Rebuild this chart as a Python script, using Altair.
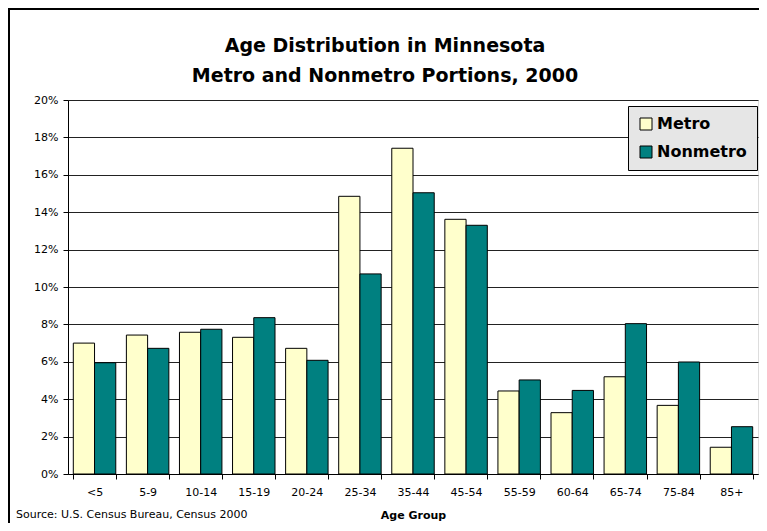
import altair as alt
import pandas as pd

ages = ["<5", "5-9", "10-14", "15-19", "20-24", "25-34", "35-44", "45-54",
        "55-59", "60-64", "65-74", "75-84", "85+"]
metro = [7.00, 7.43, 7.58, 7.31, 6.72, 14.85, 17.42, 13.62, 4.44, 3.28, 5.20, 3.67, 1.43]
nonmetro = [5.95, 6.72, 7.74, 8.36, 6.08, 10.70, 15.04, 13.30, 5.03, 4.47, 8.04, 5.99, 2.53]
series = ["Metro", "Nonmetro"]
colors = ["#FFFFCC", "#008080"]
title_lines = ["Age Distribution in Minnesota", "Metro and Nonmetro Portions, 2000"]
source_text = "Source: U.S. Census Bureau, Census 2000"
y_ticks = [0, 0.02, 0.04, 0.06, 0.08, 0.10, 0.12, 0.14, 0.16, 0.18, 0.20]

rows = []
for a, m, n in zip(ages, metro, nonmetro):
    rows.append({"age": a, "series": "Metro", "value": m / 100})
    rows.append({"age": a, "series": "Nonmetro", "value": n / 100})
df = pd.DataFrame(rows)

FONT = "DejaVu Sans"
W, H = 690, 374

bars = alt.Chart(df).mark_bar(stroke="black", strokeWidth=1).encode(
    x=alt.X("age:N", sort=ages,
            scale=alt.Scale(paddingInner=0.2, paddingOuter=0.1),
            axis=alt.Axis(title="Age Group", labelAngle=0, tickBand="extent",
                          domainColor="black", tickColor="black", tickSize=5,
                          labelPadding=7, labelFont=FONT, labelFontSize=11,
                          labelColor="black", titleFont=FONT, titleFontSize=11,
                          titleFontWeight="bold", titleColor="black",
                          titlePadding=12, grid=False)),
    xOffset=alt.XOffset("series:N", sort=series,
                        scale=alt.Scale(paddingInner=0, paddingOuter=0)),
    y=alt.Y("value:Q", scale=alt.Scale(domain=[0, 0.2], nice=False),
            axis=alt.Axis(title=None, format=".0%", values=y_ticks,
                          domainColor="black", tickColor="black", tickSize=5,
                          labelPadding=5, labelFont=FONT, labelFontSize=11,
                          labelColor="black", grid=True, gridColor="#222",
                          gridWidth=1)),
    color=alt.Color("series:N", sort=series,
                    scale=alt.Scale(domain=series, range=colors),
                    legend=alt.Legend(title=None, orient="none",
                                      legendX=560, legendY=6,
                                      fillColor="#e6e6e6", strokeColor="black",
                                      padding=10, rowPadding=12,
                                      labelFont=FONT, labelFontSize=16,
                                      labelFontWeight="bold", labelColor="black",
                                      symbolType="square", symbolSize=144,
                                      symbolStrokeColor="black",
                                      symbolStrokeWidth=1, labelOffset=3)),
)

blank = alt.Data(values=[{}])

t1 = alt.Chart(blank).mark_text(font=FONT, fontSize=19, fontWeight="bold",
                                align="center", baseline="alphabetic",
                                color="black").encode(
    x=alt.value(317), y=alt.value(-48), text=alt.value(title_lines[0]))
t2 = alt.Chart(blank).mark_text(font=FONT, fontSize=19, fontWeight="bold",
                                align="center", baseline="alphabetic",
                                color="black").encode(
    x=alt.value(317), y=alt.value(-18), text=alt.value(title_lines[1]))
src = alt.Chart(blank).mark_text(font=FONT, fontSize=11, align="left",
                                 baseline="alphabetic", color="black").encode(
    x=alt.value(-52), y=alt.value(418), text=alt.value(source_text))

top_border = alt.Chart(blank).mark_rule(color="black", strokeWidth=2).encode(
    x=alt.value(-60), x2=alt.value(W + 1), y=alt.value(-91))
left_border = alt.Chart(blank).mark_rule(color="black", strokeWidth=2).encode(
    x=alt.value(-59), y=alt.value(-92), y2=alt.value(H + 49))

chart = alt.layer(bars, t1, t2, src, top_border, left_border).properties(
    width=W, height=H,
    autosize=alt.AutoSizeParams(type="none"),
    padding={"left": 60, "top": 92, "right": 1, "bottom": 49},
).configure_view(stroke="#888", strokeWidth=1).configure(background="white")

chart.save("out.html", embed_options={"renderer": "svg", "actions": False})
